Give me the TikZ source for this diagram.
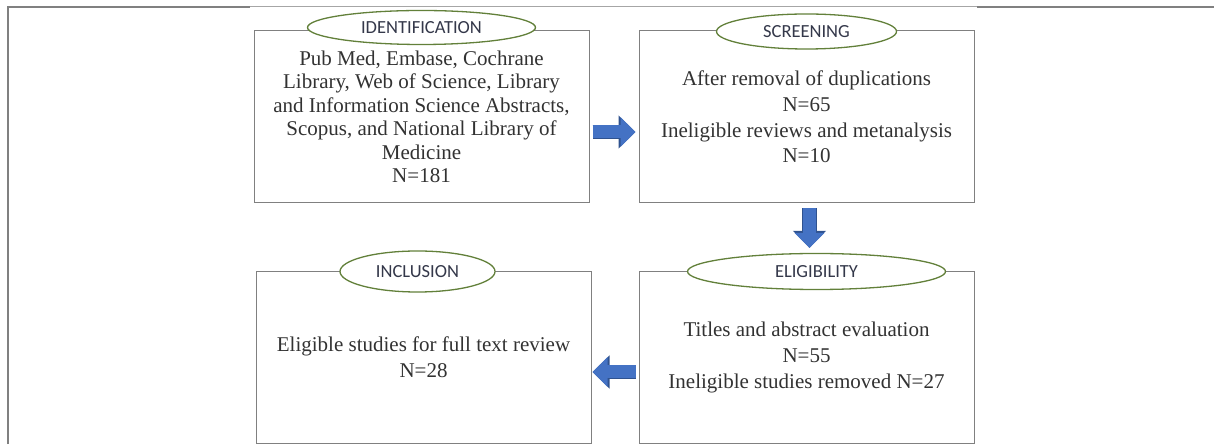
\documentclass[tikz,border=0pt]{standalone}
\usepackage{fontspec}
\setmainfont{Liberation Serif}
\newfontfamily\lblfont{Carlito}
\usepackage{xcolor}
\usetikzlibrary{positioning,arrows.meta,shapes.geometric}
\definecolor{boxgray}{RGB}{128,128,128}
\definecolor{txtgray}{RGB}{50,50,50}
\definecolor{olivegr}{RGB}{98,128,58}
\definecolor{lbltxt}{RGB}{52,56,74}
\definecolor{arrblue}{RGB}{68,114,196}
\definecolor{arredge}{RGB}{47,82,143}

\begin{document}
\begin{tikzpicture}[x=1pt,y=1pt,
  box/.style={draw=boxgray,line width=1pt,align=center,text=txtgray,minimum width=335pt,minimum height=172pt,inner sep=0pt,font=\fontsize{21}{25.8}\selectfont},
  lbl/.style={ellipse,draw=olivegr,line width=1.3pt,fill=white,text=lbltxt,inner sep=0pt,font=\lblfont\fontsize{18.5}{20}\selectfont},
  fatedge/.style={draw=arredge,line width=14.6pt,-{Triangle[length=17pt,width=32pt]}},
  fat/.style={draw=arrblue,line width=13pt,-{Triangle[length=15pt,width=29pt]}}]
\useasboundingbox (0,0) rectangle (1214,444);
% frame lines
\draw[boxgray,line width=1.2pt] (8,0) -- (8,437) -- (250,437);
\draw[boxgray!70,line width=1pt] (250,437) -- (977,437);
\draw[boxgray,line width=1.5pt] (977,437) -- (1214,437);
% the four stages
\node[box,font=\fontsize{21}{23.5}\selectfont] (idbox) at (421.5,327) {Pub Med, Embase, Cochrane\\Library, Web of Science, Library\\and Information Science Abstracts,\\Scopus, and National Library of\\Medicine\\N=181};
\node[box,right=49pt of idbox] (scrbox) {After removal of duplications\\N=65\\Ineligible reviews and metanalysis\\N=10};
\node[box,below=68pt of scrbox,minimum height=171pt] (eligbox) {Titles and abstract evaluation\\N=55\\Ineligible studies removed N=27};
\node[box,left=47pt of eligbox,minimum height=171pt] (inclbox) {Eligible studies for full text review\\N=28};
% stage labels
\node[lbl,minimum width=228pt,minimum height=34pt] (idlbl) at ([yshift=3pt]idbox.north) {IDENTIFICATION};
\node[lbl,minimum width=180pt,minimum height=35pt] (scrlbl) at ([yshift=-1pt]scrbox.north) {SCREENING};
\node[lbl,minimum width=258pt,minimum height=36pt] (eliglbl) at ([xshift=10pt]eligbox.north) {ELIGIBILITY};
\node[lbl,minimum width=155pt,minimum height=41pt] (incllbl) at ([xshift=-6pt]inclbox.north) {INCLUSION};
% block arrows, a dark edge under a blue body
\foreach \s in {fatedge,fat}{
  \draw[\s,shorten <=3pt,shorten >=3pt] ([yshift=-15pt]idbox.east) -- ([yshift=-15pt]scrbox.west);
  \draw[\s,shorten <=5pt,shorten >=5pt] ([xshift=3pt]scrbox.south) -- ([xshift=3pt]scrbox.south |- eliglbl.north);
  \draw[\s,shorten <=3pt,shorten >=1pt] ([yshift=-14.5pt]eligbox.west) -- ([yshift=-14.5pt]inclbox.east);
}
\end{tikzpicture}
\end{document}
